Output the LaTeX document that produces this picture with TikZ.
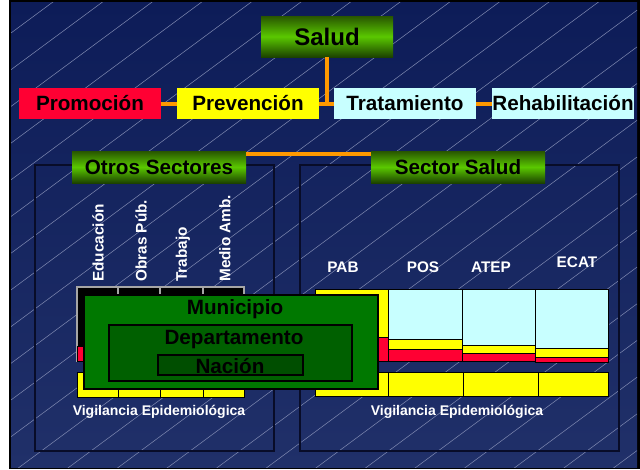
\documentclass[tikz,border=0pt]{standalone}
\usepackage{fontspec}
\setmainfont{Liberation Sans}
\usetikzlibrary{calc}
\definecolor{navyA}{RGB}{13,28,88}
\definecolor{navyB}{RGB}{32,48,105}
\definecolor{hatchc}{RGB}{125,135,175}
\definecolor{pred}{RGB}{255,0,51}
\definecolor{pyellow}{RGB}{255,255,0}
\definecolor{pcyan}{RGB}{200,255,255}
\definecolor{porange}{RGB}{255,153,0}
\definecolor{gtop}{RGB}{40,85,0}
\definecolor{gmid}{RGB}{90,200,0}
\definecolor{gbot}{RGB}{28,66,0}
\definecolor{gmuni}{RGB}{0,120,0}
\definecolor{gdep}{RGB}{0,96,0}
\definecolor{gnac}{RGB}{0,78,0}
\definecolor{framec}{RGB}{8,12,40}
\begin{document}
\begin{tikzpicture}[x=0.75pt,y=-0.75pt,
  txt/.style={font=\bfseries\fontsize{15.5}{18}\selectfont, text=black, inner sep=0pt},
  lbl/.style={font=\bfseries\fontsize{11.5}{13}\selectfont, text=white, inner sep=0pt},
  vig/.style={font=\bfseries\fontsize{10.5}{12}\selectfont, text=white, inner sep=0pt},
  tbox/.style={txt, minimum width=106.5pt, minimum height=23.25pt},
  gbox/.style={txt, top color=gtop, bottom color=gbot, middle color=gmid},
  link/.style={porange, line width=3pt},
  hatchline/.style={hatchc, line width=0.4pt},
  framebox/.style={draw=framec, line width=0.8pt},
  cell/.style={draw=black, line width=0.6pt},
  greybox/.style={draw=black, line width=0.8pt},
]
\useasboundingbox (0,0) rectangle (640,469);
% background
\fill[white] (0,0) rectangle (640,469);
\fill[black] (9,0) rectangle (640,469);
\shade[top color=navyA, bottom color=navyB] (11,2) rectangle (637,467);
\begin{scope}
  \clip (11,2) rectangle (637,467);
  \foreach \k in {-1,...,26}
    \draw[hatchline] (11,{33+36.7*\k}) -- (637,{33+36.7*\k-463.2});
\end{scope}
% frames
\draw[framebox] (35,165) rectangle (274,451);
\draw[framebox] (300,165) rectangle (619,451);

% top boxes
\node[gbox, minimum width=99pt, minimum height=30.75pt, font=\bfseries\fontsize{18}{21}\selectfont] (salud) at (327,36.5) {Salud};
\node[tbox, fill=pred] (prom) at (90,103.5) {Promoción};
\node[tbox, fill=pyellow] (prev) at (248,103.5) {Prevención};
\node[tbox, fill=pcyan] (trat) at (405,103.5) {Tratamiento};
\node[tbox, fill=pcyan] (rehab) at (563,103.5) {Rehabilitación};
\node[gbox, minimum width=130.5pt, minimum height=24pt] (otros) at (159,167) {Otros Sectores};
\node[gbox, minimum width=130.5pt, minimum height=24pt] (secsal) at (458,167) {Sector Salud};

% connectors
\draw[link] (prom) -- (prev);
\draw[link] (prev) -- (trat);
\draw[link] (trat) -- (rehab);
\draw[link] (salud.south) -- (salud.south |- prev.east);
\draw[link] ($(otros.east)+(0,-13)$) -- ($(secsal.west)+(0,-13)$);

% left block: columns
\foreach \a/\b in {77/118,118/160,160/203,203/244}{
  \draw[draw=gray!70, line width=0.8pt, fill=black] (\a,287) rectangle (\b,361);
  \draw[cell, fill=pred] (\a,346) rectangle (\b,361);
  \draw[cell, fill=pyellow] (\a,372) rectangle (\b,397);
}
% right block: columns
\draw[cell, fill=pyellow] (315,289) rectangle (388,337);
\draw[cell, fill=pred] (315,337) rectangle (388,361);
\draw[cell, fill=pcyan] (388,289) rectangle (462,339);
\draw[cell, fill=pyellow] (388,339) rectangle (462,349);
\draw[cell, fill=pred] (388,349) rectangle (462,361);
\draw[cell, fill=pcyan] (462,289) rectangle (535,345);
\draw[cell, fill=pyellow] (462,345) rectangle (535,353);
\draw[cell, fill=pred] (462,353) rectangle (535,361);
\draw[cell, fill=pcyan] (535,289) rectangle (608,348);
\draw[cell, fill=pyellow] (535,348) rectangle (608,357);
\draw[cell, fill=pred] (535,357) rectangle (608,362);
\foreach \a/\b in {315/388,388/463,463/538,538/608}
  \draw[cell, fill=pyellow] (\a,372) rectangle (\b,396);

% levels
\node[greybox, fill=gmuni, minimum width=220.5pt, minimum height=70.5pt] (muni) at (231,342) {};
\node[txt] (munit) at (235,309) {Municipio};
\node[greybox, fill=gdep, minimum width=182.25pt, minimum height=42pt] (dep) at (230.5,353) {};
\node[txt] (dept) at (234,340) {Departamento};
\node[greybox, fill=gnac, minimum width=108.75pt, minimum height=15pt] (nac) at (230.5,365) {};
\node[txt] (nact) at (230,366) {Nación};

% labels
\node[lbl, rotate=90, anchor=west] (edu) at (98,282) {Educación};
\node[lbl, rotate=90, anchor=west] (obr) at (141,282) {Obras Púb.};
\node[lbl, rotate=90, anchor=west] (tra) at (183,282) {Trabajo};
\node[lbl, rotate=90, anchor=west] (med) at (225,282) {Medio Amb.};
\node[lbl] (pab) at (343,267) {PAB};
\node[lbl] (pos) at (423,267) {POS};
\node[lbl] (atep) at (491,267) {ATEP};
\node[lbl] (ecat) at (577,262) {ECAT};
\node[vig] (vigl) at (159,412) {Vigilancia Epidemiológica};
\node[vig] (vigr) at (457,412) {Vigilancia Epidemiológica};
\end{tikzpicture}
\end{document}
